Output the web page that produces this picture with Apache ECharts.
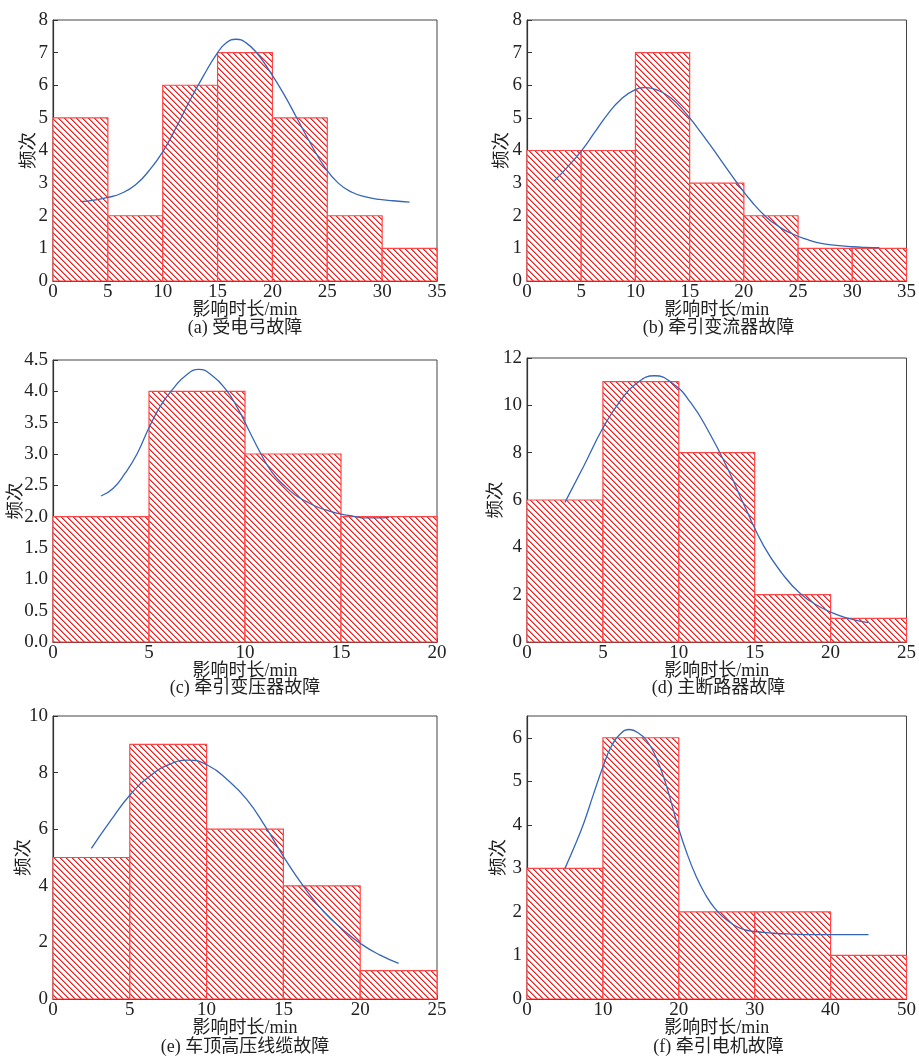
<!DOCTYPE html>
<html>
<head>
<meta charset="utf-8">
<script src="https://cdn.jsdelivr.net/npm/echarts@6/dist/echarts.min.js"></script>
<style>
html,body{margin:0;padding:0;background:#fff;}
#chart{width:919px;height:1058px;}
</style>
</head>
<body>
<div id="chart"></div>
<script>
// ---------- DATA ----------
const edgesA = [0, 5, 10, 15, 20, 25, 30, 35];
const countsA = [5, 2, 6, 7, 5, 2, 1];
const curveA = [[2.5,2.43],[3.75,2.48],[5,2.56],[6.25,2.69],[7.5,2.94],[8.75,3.38],[10,3.96],[11.25,4.72],[12.5,5.55],[13.7,6.28],[14.9,6.95],[15.8,7.3],[16.7,7.41],[17.6,7.3],[18.6,6.98],[19.8,6.4],[21,5.75],[22.25,4.98],[23.5,4.2],[24.75,3.5],[26,3.0],[27.25,2.72],[28.5,2.58],[29.75,2.5],[31,2.46],[32.5,2.42]];

const edgesB = [0, 5, 10, 15, 20, 25, 30, 35];
const countsB = [4, 4, 7, 3, 2, 1, 1];
const curveB = [[2.5,3.06],[3.75,3.5],[5,3.98],[6.25,4.56],[7.5,5.14],[8.7,5.58],[9.9,5.85],[10.96,5.93],[12.02,5.85],[13.25,5.62],[14.5,5.2],[15.75,4.68],[17,4.12],[18.25,3.53],[19.5,2.95],[20.75,2.42],[22,1.98],[23.25,1.66],[24.5,1.44],[25.75,1.28],[27,1.16],[28.5,1.09],[30,1.05],[31.25,1.03],[32.5,1.02]];

const edgesC = [0, 5, 10, 15, 20];
const countsC = [2, 4, 3, 2];
const curveC = [[2.5,2.33],[3.125,2.45],[3.75,2.69],[4.375,3.0],[5,3.42],[5.625,3.78],[6.25,4.04],[6.9,4.25],[7.6,4.35],[8.3,4.25],[9,4.03],[9.6,3.74],[10.2,3.38],[10.8,3.02],[11.4,2.71],[12,2.51],[12.6,2.35],[13.2,2.24],[13.8,2.15],[14.4,2.09],[15,2.04],[15.625,2.01],[16.25,1.98],[16.875,1.98],[17.5,1.99]];

const edgesD = [0, 5, 10, 15, 20, 25];
const countsD = [6, 11, 8, 2, 1];
const curveD = [[2.5,5.9],[3.75,7.45],[5,9.04],[6.1,10.15],[7.2,10.92],[8.4,11.25],[9.6,10.92],[10.8,10.1],[12,8.85],[13.2,7.35],[14.4,5.65],[15.6,4.05],[16.8,2.9],[18,2.05],[19.25,1.5],[20.5,1.14],[21.5,0.95],[22.5,0.82]];

const edgesE = [0, 5, 10, 15, 20, 25];
const countsE = [5, 9, 6, 4, 1];
const curveE = [[2.5,5.32],[3.75,6.3],[5,7.2],[6.25,7.85],[7.5,8.27],[8.8,8.44],[10.1,8.25],[11.35,7.75],[12.6,7.06],[13.85,6.07],[15.1,4.95],[16.35,3.95],[17.6,3.1],[18.85,2.46],[20.1,1.93],[21.3,1.55],[22.5,1.26]];

const edgesF = [0, 10, 20, 30, 40, 50];
const countsF = [3, 6, 2, 2, 1];
const curveF = [[5,3.0],[6.25,3.5],[7.5,4.05],[8.75,4.7],[10,5.33],[11.1,5.8],[12.25,6.08],[13.5,6.19],[14.75,6.1],[16,5.88],[17.25,5.45],[18.5,4.82],[19.75,4.05],[21,3.38],[22.25,2.83],[23.5,2.4],[24.75,2.08],[26,1.86],[27.25,1.7],[28.5,1.6],[30,1.55],[32.5,1.51],[35,1.49],[37.5,1.48],[40,1.48],[42.5,1.48],[45,1.48]];

const xMaxes = [35, 35, 20, 25, 25, 50];
const xIntervals = [5, 5, 5, 5, 5, 10];
const yMaxes = [8, 8, 4.5, 12, 10, 6.5];
const yIntervals = [1, 1, 0.5, 2, 2, 1];
const yDecimals = [0, 0, 1, 0, 0, 0];
const captions = ['(a) 受电弓故障', '(b) 牵引变流器故障', '(c) 牵引变压器故障', '(d) 主断路器故障', '(e) 车顶高压线缆故障', '(f) 牵引电机故障'];
const xName = '影响时长/min';
const yName = '频次';

// ---------- LAYOUT ----------
const grids = [
  {left: 53, top: 20, width: 384, height: 261},
  {left: 527, top: 20, width: 383, height: 261},
  {left: 53, top: 360, width: 384, height: 282},
  {left: 527, top: 358, width: 383, height: 284},
  {left: 53, top: 716, width: 384, height: 283},
  {left: 527, top: 716, width: 383, height: 283}
];
const yNameGaps = [15, 15.75, 28, 22, 19.75, 19];
const captionY = [328, 328, 688, 688, 1047, 1047];

const panels = [
  [edgesA, countsA, curveA], [edgesB, countsB, curveB], [edgesC, countsC, curveC],
  [edgesD, countsD, curveD], [edgesE, countsE, curveE], [edgesF, countsF, curveF]
];

// hatch pattern
const pc = document.createElement('canvas');
pc.width = 6; pc.height = 6;
const pctx = pc.getContext('2d');
pctx.fillStyle = '#ffffff';
pctx.fillRect(0, 0, 6, 6);
for (let i = 0; i < 6; i++) {
  pctx.fillStyle = 'rgba(255,20,20,1)';
  pctx.fillRect(i, i, 1, 1);
  pctx.fillStyle = 'rgba(255,40,40,0.6)';
  pctx.fillRect((i + 1) % 6, i, 1, 1);
}
const hatch = {image: pc, repeat: 'repeat'};

const FONT = '"Liberation Serif", "Noto Sans CJK SC", serif';
const TXT = '#222';

const option = {
  animation: false,
  backgroundColor: '#fff',
  grid: grids.map(g => Object.assign({show: true, borderColor: '#444', borderWidth: 1, backgroundColor: 'transparent'}, g)),
  xAxis: grids.map((g, i) => ({
    type: 'value', gridIndex: i, min: 0, max: xMaxes[i], interval: xIntervals[i],
    name: xName, nameLocation: 'middle', nameGap: 20.5, nameMoveOverlap: false,
    nameTextStyle: {fontFamily: FONT, fontSize: 18, color: TXT},
    axisLine: {show: true, lineStyle: {color: '#333', width: 1.2}},
    axisTick: {show: true, inside: true, length: 4, lineStyle: {color: '#333'}},
    axisLabel: {fontFamily: FONT, fontSize: 19, color: TXT, margin: 2},
    splitLine: {show: false}
  })),
  yAxis: grids.map((g, i) => ({
    type: 'value', gridIndex: i, min: 0, max: yMaxes[i], interval: yIntervals[i],
    name: yName, nameLocation: 'middle', nameGap: yNameGaps[i], nameMoveOverlap: false,
    nameTextStyle: {fontFamily: FONT, fontSize: 18.5, color: TXT},
    axisLine: {show: true, lineStyle: {color: '#333', width: 1.2}},
    axisTick: {show: true, inside: true, length: 5, lineStyle: {color: '#333'}},
    axisLabel: {fontFamily: FONT, fontSize: 19, color: TXT, margin: 5, showMaxLabel: yMaxes[i] % yIntervals[i] === 0,
      formatter: v => v.toFixed(yDecimals[i])},
    splitLine: {show: false}
  })),
  graphic: captions.map((c, i) => ({
    type: 'text',
    x: grids[i].left + grids[i].width / 2,
    y: captionY[i],
    style: {text: c, font: '18px ' + FONT, fill: TXT, align: 'center', verticalAlign: 'middle', textAlign: 'center', textVerticalAlign: 'middle'}
  })),
  series: []
};

panels.forEach((p, i) => {
  const [edges, counts, curve] = p;
  const bars = counts.map((c, k) => [edges[k], edges[k + 1], c]);
  option.series.push({
    type: 'custom', xAxisIndex: i, yAxisIndex: i, z: 2,
    encode: {x: [0, 1], y: 2},
    data: bars,
    renderItem: (params, api) => {
      const p0 = api.coord([api.value(0), 0]);
      const p1 = api.coord([api.value(1), api.value(2)]);
      return {
        type: 'rect',
        shape: {x: p0[0], y: p1[1], width: p1[0] - p0[0], height: p0[1] - p1[1]},
        style: {fill: hatch, stroke: '#ff4545', lineWidth: 1.2}
      };
    }
  });
  option.series.push({
    type: 'line', xAxisIndex: i, yAxisIndex: i, z: 3,
    data: curve, showSymbol: false, smooth: 0.5,
    lineStyle: {color: '#3566b8', width: 1.3}
  });
});

const chart = echarts.init(document.getElementById('chart'), null, {renderer: 'canvas'});
chart.setOption(option);
</script>
</body>
</html>
